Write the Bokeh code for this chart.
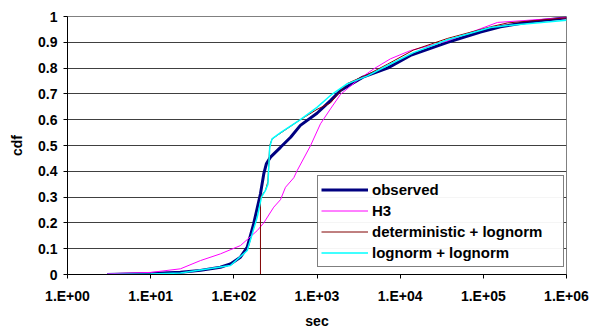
from bokeh.plotting import figure
from bokeh.models import FixedTicker, CustomJSTickFormatter, Legend, LegendItem, Range1d
from bokeh.embed import file_html
from bokeh.resources import INLINE

# ---- data ----
obs_x = [3, 10, 22.8, 39.7, 69, 91, 120, 145, 173, 209, 229, 246, 276, 364, 482, 631, 1000,
         1452, 1916, 3560, 7040, 13300, 37100, 92400, 160700, 369000, 1000000]
obs_y = [0.0, 0.004, 0.009, 0.016, 0.028, 0.041, 0.067, 0.106, 0.196, 0.313, 0.39, 0.429, 0.455,
         0.493, 0.532, 0.578, 0.625, 0.674, 0.713, 0.765, 0.80, 0.849, 0.90, 0.94, 0.96, 0.98,
         0.995]

h3_x = [3, 10, 22.8, 39.7, 69, 120, 191, 229, 302, 364, 418, 526, 578, 835, 1101, 1452, 1916,
        3040, 4820, 7650, 13300, 37000, 148000, 1000000]
h3_y = [0.003, 0.008, 0.022, 0.054, 0.08, 0.112, 0.17, 0.2, 0.261, 0.29, 0.338, 0.375, 0.403,
        0.499, 0.584, 0.642, 0.698, 0.752, 0.797, 0.836, 0.868, 0.905, 0.977, 0.996]

det_x = [3, 209, 209, 240, 257, 270, 288, 335, 631, 1000, 1452, 2300, 4046, 7040, 14450,
         37100, 122000, 195000, 1000000]
det_y = [0.0, 0.0, 0.30, 0.326, 0.36, 0.50, 0.525, 0.54, 0.60, 0.64, 0.665, 0.74, 0.775, 0.815,
         0.87, 0.915, 0.96, 0.975, 0.995]

ll_x = [3, 10, 22.8, 91, 145, 191, 215, 240, 257, 270, 288, 364, 631, 1000, 1452, 2300, 4046,
        7040, 14450, 37100, 122000, 195000, 1000000]
ll_y = [0.0, 0.002, 0.006, 0.035, 0.093, 0.222, 0.30, 0.326, 0.35, 0.493, 0.526, 0.55, 0.60,
        0.648, 0.694, 0.739, 0.77, 0.81, 0.86, 0.91, 0.957, 0.965, 0.985]

x_ticks = [1, 10, 100, 1000, 10000, 100000, 1000000]
y_ticks = [0, 0.1, 0.2, 0.3, 0.4, 0.5, 0.6, 0.7, 0.8, 0.9, 1]

FONT = "Liberation Sans"

p = figure(width=601, height=333, x_axis_type="log", output_backend="svg",
           toolbar_location=None, x_range=Range1d(1, 1e6), y_range=Range1d(0, 1),
           min_border_left=67, min_border_right=35, min_border_top=16, min_border_bottom=59)
p.outline_line_color = "#808080"
p.background_fill_color = "white"
p.border_fill_color = "white"

r_obs = p.line(obs_x, obs_y, line_color="#000080", line_width=3)
r_h3 = p.line(h3_x, h3_y, line_color="#FF00FF", line_width=1)
r_det = p.line(det_x, det_y, line_color="#800000", line_width=1)
r_ll = p.line(ll_x, ll_y, line_color="#00FFFF", line_width=1.5)

p.xgrid.visible = False
p.ygrid.ticker = FixedTicker(ticks=y_ticks)
p.ygrid.grid_line_color = "#404040"
p.ygrid.grid_line_width = 1

for ax in (p.xaxis[0], p.yaxis[0]):
    ax.major_label_text_font = FONT
    ax.major_label_text_font_style = "bold"
    ax.major_label_text_font_size = "14px"
    ax.major_label_text_color = "black"
    ax.axis_label_text_font = FONT
    ax.axis_label_text_font_style = "bold"
    ax.axis_label_text_font_size = "14px"
    ax.axis_label_text_color = "black"
    ax.axis_line_color = "black"
    ax.major_tick_line_color = "black"
    ax.major_tick_in = 0
    ax.major_tick_out = 4
    ax.minor_tick_line_color = None

p.xaxis.ticker = FixedTicker(ticks=x_ticks)
p.xaxis.formatter = CustomJSTickFormatter(code="""
const e = Math.round(Math.log10(tick));
return "1.E+" + String(e).padStart(2, "0");
""")
p.xaxis.axis_label = "sec"
p.xaxis.major_label_standoff = 9
p.xaxis.axis_label_standoff = 6

p.yaxis.ticker = FixedTicker(ticks=y_ticks)
p.yaxis.axis_label = "cdf"
p.yaxis.major_label_standoff = 6
p.yaxis.axis_label_standoff = 10

legend = Legend(items=[
    LegendItem(label="observed", renderers=[r_obs]),
    LegendItem(label="H3", renderers=[r_h3]),
    LegendItem(label="deterministic + lognorm", renderers=[r_det]),
    LegendItem(label="lognorm + lognorm", renderers=[r_ll]),
], location=(250, 7))
legend.label_text_font = FONT
legend.label_text_font_style = "bold"
legend.label_text_font_size = "15px"
legend.label_text_color = "black"
legend.border_line_color = "black"
legend.border_line_width = 1
legend.padding = 3
legend.margin = 0
legend.spacing = 0
legend.label_height = 21
legend.glyph_height = 21
legend.glyph_width = 47
legend.label_standoff = 4
legend.label_width = 188
p.add_layout(legend, "center")

open("out.html", "w").write(file_html(p, INLINE))
